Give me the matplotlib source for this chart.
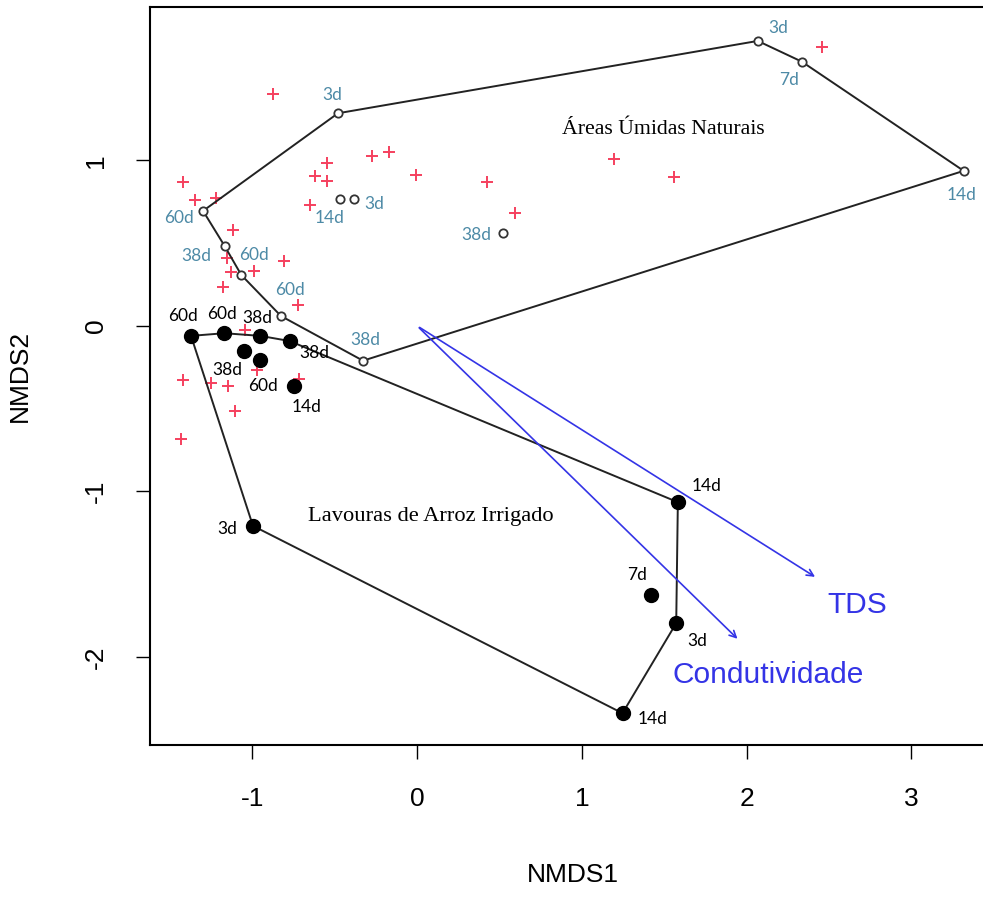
import numpy as np
import matplotlib
matplotlib.use('Agg')
from matplotlib import pyplot as plt

plt.rcParams['axes.unicode_minus'] = False

# pontos das areas umidas naturais (circulos abertos)
nat_x = [-1.300, -0.481, 2.067, 2.334, 3.317, -0.329, -0.827, -1.068, -1.169, -0.471, -0.384, 0.518]
nat_y = [0.695, 1.285, 1.722, 1.597, 0.937, -0.210, 0.060, 0.308, 0.483, 0.766, 0.766, 0.560]
nat_lab = ['60d', '3d', '3d', '7d', '14d', '38d', '60d', '60d', '38d', '14d', '3d', '38d']
nat_hull = [0, 1, 2, 3, 4, 5, 6, 7, 8, 0]

# pontos das lavouras de arroz (circulos cheios)
arroz_x = [-1.373, -1.171, -0.953, -0.775, 1.582, 1.572, 1.246, -0.997, -1.054, -0.953, -0.746, 1.420]
arroz_y = [-0.060, -0.044, -0.060, -0.091, -1.065, -1.796, -2.340, -1.208, -0.149, -0.205, -0.363, -1.625]
arroz_lab = ['60d', '60d', '38d', '38d', '14d', '3d', '14d', '3d', '38d', '60d', '14d', '7d']
arroz_hull = [0, 1, 2, 3, 4, 5, 6, 7, 0]

# especies (+)
sp_x = [-0.876, -0.548, -0.619, -0.548, -0.275, -0.170, -0.008, 0.422, 0.595, -0.649, 1.195, 1.558,
        2.458, -1.424, -1.351, -1.221, -1.121, -1.155, -1.130, -0.991, -0.807, -1.177, -0.726,
        -1.048, -0.973, -0.716, -1.422, -1.252, -1.151, -1.104, -1.432]
sp_y = [1.402, 0.983, 0.906, 0.878, 1.027, 1.051, 0.912, 0.867, 0.681, 0.729, 1.007, 0.902,
        1.686, 0.868, 0.761, 0.772, 0.580, 0.409, 0.328, 0.334, 0.393, 0.234, 0.127,
        -0.024, -0.266, -0.320, -0.326, -0.343, -0.363, -0.512, -0.685]

# vetores ambientais
env_names = ['TDS', 'Condutividade']
env_x = [2.429, 1.956]
env_y = [-1.525, -1.902]

# deslocamento dos rotulos (pixels)
nat_off = [(-24, -7), (-6, 18), (20, 13), (-13, -18), (-2, -24), (2, 21), (9, 26), (13, 20),
           (-28, -10), (-10, -19), (20, -5), (-26, -2)]
arroz_off = [(-8, 20), (-2, 19), (-3, 18), (25, -12), (29, 16), (21, -18), (30, -6), (-26, -3),
             (-16, -19), (3, -26), (12, -21), (-14, 20)]
env_lab_pos = [(2.668, -1.686), (2.132, -2.109)]

W, H = 983, 897
fig = plt.figure(figsize=(W / 100, H / 100), dpi=100)
ax = fig.add_axes([150 / W, (H - 745) / H, 845 / W, 737.5 / H])

teal = '#4d8aa6'
blue = '#3434e6'
lab_font = ['Lato', 'DejaVu Sans']
sans = ['Liberation Sans', 'DejaVu Sans']
serif = ['Liberation Serif', 'DejaVu Serif']

ax.plot(sp_x, sp_y, '+', color='#f5405e', ms=8, mew=1.4, zorder=1)

hx = [nat_x[i] for i in nat_hull]
hy = [nat_y[i] for i in nat_hull]
ax.plot(hx, hy, '-', color='#222222', lw=1.4, zorder=2)
hx = [arroz_x[i] for i in arroz_hull]
hy = [arroz_y[i] for i in arroz_hull]
ax.plot(hx, hy, '-', color='#222222', lw=1.4, zorder=2)

ax.plot(nat_x, nat_y, 'o', mfc='white', mec='#333333', mew=1.3, ms=6, zorder=3)
ax.plot(arroz_x, arroz_y, 'o', color='black', ms=10, zorder=3)

for x, y, t, o in zip(nat_x, nat_y, nat_lab, nat_off):
    ax.annotate(t, (x, y), xytext=o, textcoords='offset pixels', ha='center', va='center',
                color=teal, fontsize=12.5, family=lab_font, zorder=4)
for x, y, t, o in zip(arroz_x, arroz_y, arroz_lab, arroz_off):
    ax.annotate(t, (x, y), xytext=o, textcoords='offset pixels', ha='center', va='center',
                color='black', fontsize=12.5, family=lab_font, zorder=4)

for x, y, name, p in zip(env_x, env_y, env_names, env_lab_pos):
    ax.annotate('', xy=(x, y), xytext=(0, 0),
                arrowprops=dict(arrowstyle='->', color=blue, lw=1.2, mutation_scale=12))
    ax.text(p[0], p[1], name, color=blue, fontsize=21.5, ha='center', va='center', family=sans)

ax.text(1.493, 1.184, 'Áreas Úmidas Naturais', fontsize=15.7, ha='center', va='center', family=serif)
ax.text(0.085, -1.152, 'Lavouras de Arroz Irrigado', fontsize=16.2, ha='center', va='center', family=serif)

ax.set_xlim(-1.622, 3.507)
ax.set_ylim(-2.532, 1.924)
ax.set_xticks([-1, 0, 1, 2, 3])
ax.set_yticks([-2, -1, 0, 1])
ax.tick_params(length=10, width=1, pad=20, labelsize=19)
for lbl in ax.get_yticklabels():
    lbl.set_rotation(90)
    lbl.set_va('center')
for lbl in ax.get_xticklabels() + ax.get_yticklabels():
    lbl.set_family(sans)
for s in ax.spines.values():
    s.set_linewidth(1.5)

ax.set_xlabel('NMDS1', fontsize=19, family=sans, labelpad=38)
ax.set_ylabel('NMDS2', fontsize=19, family=sans, labelpad=38)

fig.savefig('out.png', dpi=100)
